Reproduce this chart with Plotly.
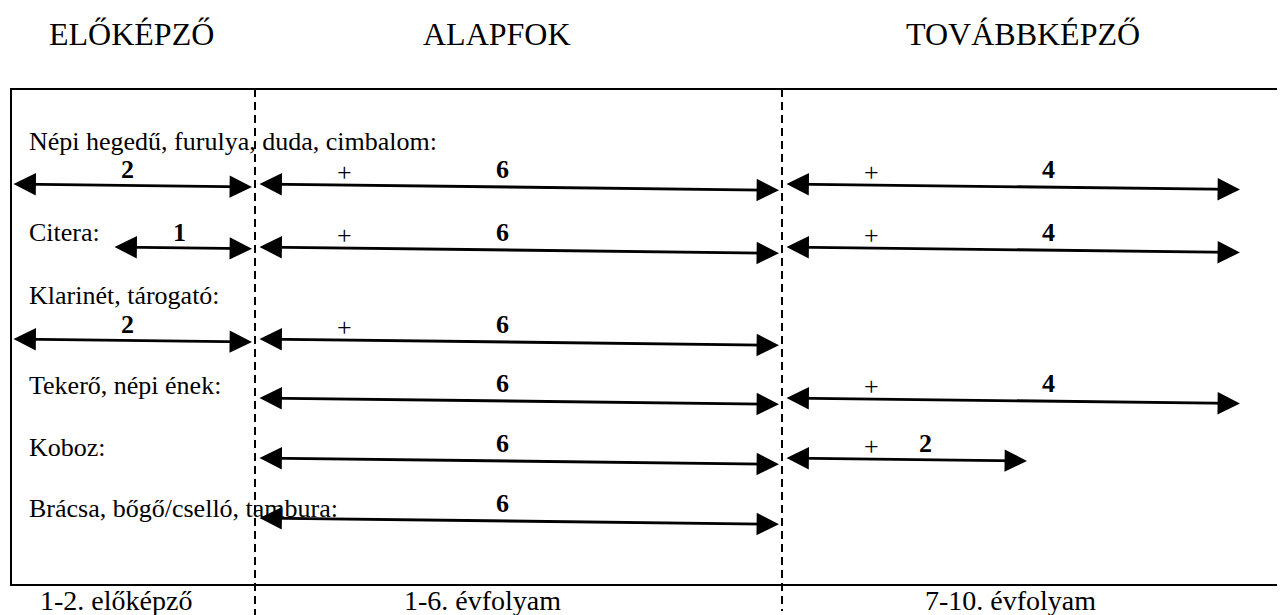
import plotly.graph_objects as go

# ---------------- data ----------------
instruments = [
    "Népi hegedű, furulya, duda, cimbalom:",
    "Citera:",
    "Klarinét, tárogató:",
    "Tekerő, népi ének:",
    "Koboz:",
    "Brácsa, bőgő/cselló, tambura:",
]
pre_years = [2, 1, 2, 0, 0, 0]      # előképző years
basic_years = [6, 6, 6, 6, 6, 6]    # alapfok years
adv_years = [4, 4, 0, 4, 2, 0]      # továbbképző years
phase_titles = ["ELŐKÉPZŐ", "ALAPFOK", "TOVÁBBKÉPZŐ"]
grade_labels = ["1-2. előképző", "1-6. évfolyam", "7-10. évfolyam"]

# ---------------- layout (page pixel space of the diagram) ----------------
PAGE_W, PAGE_H = 1285, 615
OFF = 8  # default body margin of the html page
W, H = PAGE_W - OFF, PAGE_H - OFF
FONT = "Liberation Serif, Times New Roman, serif"
title_x = [131, 497, 1023]
title_y = 34
grade_x = [116, 482, 1010]
grade_y = 600
label_x = 27
label_y = [141, 232, 295, 385, 447, 508]
arrow_y = [184, 247, 339, 398, 458, 518]
div1, div2 = 255, 782
gap = 3
slope = 0.012
box = dict(x0=11, y0=89, x1=1300, y1=585)


def pre_len(n):
    return 38 + 101 * n


def basic_len(n):
    return (div2 - div1 - 2 * gap) * n / 6


def adv_len(n):
    return 29 + 106.5 * n


fig = go.Figure()
fig.add_trace(go.Scatter(x=[OFF, PAGE_W], y=[OFF, PAGE_H], mode="markers",
                         marker=dict(opacity=0), hoverinfo="skip", showlegend=False))

ann = []
shapes = []

# frame and dashed dividers
shapes.append(dict(type="rect", xref="x", yref="y", **box,
                   line=dict(color="black", width=2), fillcolor="rgba(0,0,0,0)"))
shapes.append(dict(type="line", xref="x", yref="y", x0=div1, x1=div1, y0=box["y0"], y1=620,
                   line=dict(color="black", width=2, dash="8px,5px")))
shapes.append(dict(type="line", xref="x", yref="y", x0=div2, x1=div2, y0=box["y0"], y1=611,
                   line=dict(color="black", width=2, dash="8px,5px")))

for t, x in zip(phase_titles, title_x):
    ann.append(dict(x=x, y=title_y, xref="x", yref="y", text=t, showarrow=False,
                    font=dict(family=FONT, size=32, color="black"), xanchor="center", yanchor="middle"))
for t, x in zip(grade_labels, grade_x):
    ann.append(dict(x=x, y=grade_y, xref="x", yref="y", text=t, showarrow=False,
                    font=dict(family=FONT, size=28, color="black"), xanchor="center", yanchor="middle"))


def arrow(x0, x1, y0, number, frac, plus):
    y1 = y0 + slope * (x1 - x0)
    ann.append(dict(x=x1, y=y1, ax=x0, ay=y0, xref="x", yref="y", axref="x", ayref="y",
                    text="", showarrow=True, arrowhead=2, startarrowhead=2,
                    arrowside="end+start", arrowsize=1.6, startarrowsize=1.6,
                    arrowwidth=2.8, arrowcolor="black"))
    ann.append(dict(x=x0 + frac * (x1 - x0), y=y0 - 15, xref="x", yref="y", text=str(number),
                    showarrow=False, xanchor="center", yanchor="middle",
                    font=dict(family=FONT, size=26, color="black", weight="bold")))
    if plus:
        ann.append(dict(x=x0 + 86, y=y0 - 12, xref="x", yref="y", text="+",
                        showarrow=False, xanchor="center", yanchor="middle",
                        font=dict(family=FONT, size=26, color="black")))


for i, name in enumerate(instruments):
    ann.append(dict(x=label_x, y=label_y[i], xref="x", yref="y", text=name, showarrow=False,
                    xanchor="left", yanchor="middle",
                    font=dict(family=FONT, size=26, color="black")))
    y0 = arrow_y[i]
    if pre_years[i] > 0:
        arrow(div1 - gap - pre_len(pre_years[i]), div1 - gap, y0, pre_years[i], 0.48, False)
    if basic_years[i] > 0:
        arrow(div1 + gap, div1 + gap + basic_len(basic_years[i]), y0, basic_years[i], 0.47,
              pre_years[i] > 0)
    if adv_years[i] > 0:
        arrow(div2 + gap, div2 + gap + adv_len(adv_years[i]), y0, adv_years[i], 0.58,
              basic_years[i] > 0)

fig.update_layout(
    width=W, height=H,
    margin=dict(l=0, r=0, t=0, b=0),
    paper_bgcolor="white", plot_bgcolor="white",
    xaxis=dict(range=[OFF, PAGE_W], visible=False, fixedrange=True),
    yaxis=dict(range=[PAGE_H, OFF], visible=False, fixedrange=True),
    annotations=ann, shapes=shapes, showlegend=False,
)

fig.write_html("out.html")
